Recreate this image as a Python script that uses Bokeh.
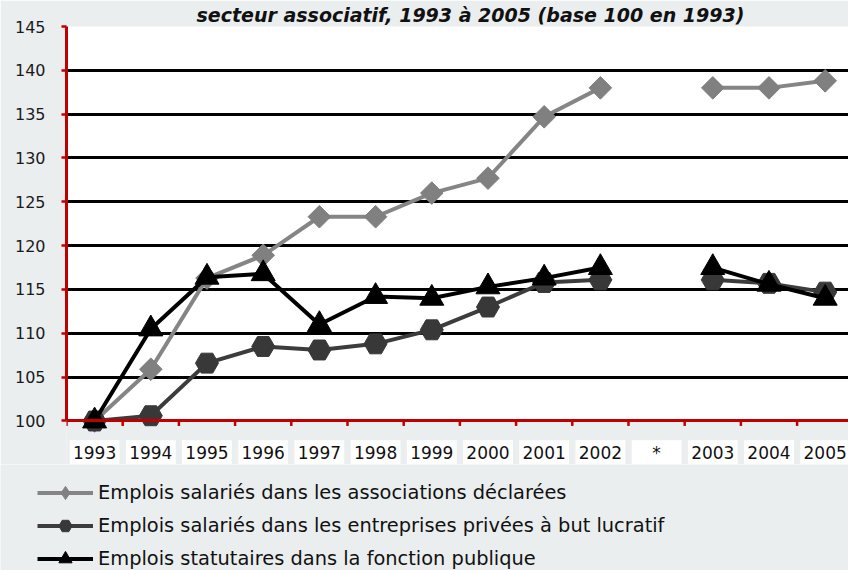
import math
from bokeh.plotting import figure
from bokeh.layouts import column
from bokeh.core.properties import value
from bokeh.models import (Range1d, FixedTicker, Grid, Legend, LegendItem, LabelSet,
                          ColumnDataSource, BoxAnnotation)
from bokeh.embed import file_html
from bokeh.resources import INLINE

nan = float("nan")

categories = ["1993", "1994", "1995", "1996", "1997", "1998", "1999", "2000",
              "2001", "2002", "*", "2003", "2004", "2005"]
associations = [100, 105.9, 116.3, 118.9, 123.3, 123.3, 126.0, 127.7,
                134.7, 138.0, nan, 138.0, 138.0, 138.8]
entreprises = [100, 100.6, 106.6, 108.5, 108.1, 108.8, 110.4, 113.0,
               115.8, 116.1, nan, 116.1, 115.7, 114.7]
fonction_publique = [100, 110.5, 116.4, 116.8, 111.0, 114.2, 114.0, 115.3,
                     116.3, 117.5, nan, 117.5, 115.6, 114.0]
y_ticks = [100, 105, 110, 115, 120, 125, 130, 135, 140, 145]

series_names = ["Emplois salariés dans les associations déclarées",
                "Emplois salariés dans les entreprises privées à but lucratif",
                "Emplois statutaires dans la fonction publique"]
title_text = "secteur associatif, 1993 à 2005 (base 100 en 1993)"

# layout (pixels)
W = 848
H_MAIN = 464
H_LEG = 570 - H_MAIN
FRAME_LEFT = 66
FRAME_TOP = 21
AXIS_Y = 420
LABEL_DROP = 32      # px from base line to the centre of the year labels
TICK_LEN = 5
px_per_unit = (AXIS_Y - FRAME_TOP) / (y_ticks[-1] - y_ticks[0])
y_start = y_ticks[0] - (H_MAIN - AXIS_Y) / px_per_unit

BG = "#ebeeee"
RED = "#c00000"

xs = list(range(len(categories)))
bounds_x = [i - 0.5 for i in range(len(categories) + 1)]

p = figure(width=W, height=H_MAIN, output_backend="svg", toolbar_location=None,
           x_range=Range1d(-0.5, 13.415), y_range=Range1d(y_start, y_ticks[-1]),
           x_axis_location=None,
           min_border_left=FRAME_LEFT, min_border_right=0, min_border_top=FRAME_TOP,
           min_border_bottom=0)
p.frame_align = False
p.background_fill_color = BG
p.border_fill_color = BG
p.outline_line_color = None

p.title.text = title_text
p.title.align = "left"
p.title.offset = 130
p.title.standoff = 2
p.title.vertical_align = "bottom"
p.title.text_font = "DejaVu Sans"
p.title.text_font_style = "bold italic"
p.title.text_font_size = "19px"
p.title.text_line_height = 0.6
p.title.text_color = "#111111"

plot_area = BoxAnnotation(bottom=y_ticks[0], top=y_ticks[-1], fill_color="white",
                          fill_alpha=1, line_color=None, level="image")
p.add_layout(plot_area)

p.xgrid.visible = False
p.ygrid.ticker = FixedTicker(ticks=y_ticks[1:-1])
p.ygrid.grid_line_color = "black"
p.ygrid.grid_line_width = 3
p.add_layout(Grid(dimension=1, ticker=FixedTicker(ticks=[y_ticks[-1]]),
                  grid_line_color="#8a8a8a", grid_line_width=3))
p.add_layout(Grid(dimension=1, ticker=FixedTicker(ticks=[y_ticks[0]]),
                  grid_line_color=RED, grid_line_width=3, level="overlay"))

ya = p.yaxis[0]
ya.ticker = FixedTicker(ticks=y_ticks)
ya.bounds = (y_ticks[0], y_ticks[-1])
ya.axis_line_color = RED
ya.axis_line_width = 3
ya.major_tick_line_color = RED
ya.major_tick_line_width = 2.5
ya.major_tick_out = TICK_LEN
ya.major_tick_in = 0
ya.minor_tick_line_color = None
ya.major_label_standoff = 16
ya.major_label_text_font = "DejaVu Sans"
ya.major_label_text_font_size = "16px"
ya.major_label_text_color = "#1a1a1a"

# category boundary ticks below the base line
tick_end = y_ticks[0] - TICK_LEN / px_per_unit
p.segment(x0=bounds_x, y0=[y_ticks[0]] * len(bounds_x),
          x1=bounds_x, y1=[tick_end] * len(bounds_x),
          line_color=RED, line_width=2.5)

# year labels on white boxes
label_y = y_ticks[0] - LABEL_DROP / px_per_unit
cat_src = ColumnDataSource(data=dict(x=xs, y=[label_y] * len(xs), label=categories))
p.rect(x="x", y="y", width=0.885, height=25, height_units="screen",
       fill_color="white", line_color=None, source=cat_src)
p.add_layout(LabelSet(x="x", y="y", text="label", source=cat_src,
                      text_align="center", text_baseline="middle",
                      text_font=value("DejaVu Sans"), text_font_size="17px",
                      text_color="#111111"))

styles = [
    dict(line="#858585", marker="square", angle=math.pi / 4, size=16, fill="#808080"),
    dict(line="#3c3c3c", marker="hex", angle=0, size=23, fill="#383838"),
    dict(line="black", marker="triangle", angle=0, size=24, fill="black"),
]
legend_markers = ["diamond", "hex", "triangle"]
series = [associations, entreprises, fonction_publique]

for vals, st in zip(series, styles):
    p.line(xs, vals, line_color=st["line"], line_width=4)
    p.scatter(xs, vals, marker=st["marker"], angle=st["angle"], size=st["size"],
              fill_color=st["fill"], line_color=st["fill"])

# legend panel
q = figure(width=W, height=H_LEG, output_backend="svg", toolbar_location=None,
           x_range=Range1d(0, 1), y_range=Range1d(0, 1),
           x_axis_location=None, y_axis_location=None,
           min_border_left=0, min_border_right=0, min_border_top=0, min_border_bottom=0)
q.frame_align = False
q.background_fill_color = BG
q.border_fill_color = BG
q.outline_line_color = None
q.xgrid.visible = False
q.ygrid.visible = False

items = []
for name, vals, st, mk in zip(series_names, series, styles, legend_markers):
    rl = q.line(xs, vals, line_color=st["line"], line_width=4)
    rm = q.scatter(xs, vals, marker=mk, size=st["size"],
                   fill_color=st["fill"], line_color=st["fill"])
    items.append(LegendItem(label=name, renderers=[rl, rm]))

legend = Legend(items=items, location=(37, -5), orientation="vertical",
                background_fill_alpha=0, border_line_color=None,
                padding=0, margin=0, spacing=0,
                glyph_width=56, glyph_height=33, label_height=33, label_standoff=5,
                label_text_font="DejaVu Sans", label_text_font_size="19.4px",
                label_text_color="#111111")
q.add_layout(legend)

layout = column(p, q, spacing=0)
open("out.html", "w").write(file_html(layout, INLINE))
